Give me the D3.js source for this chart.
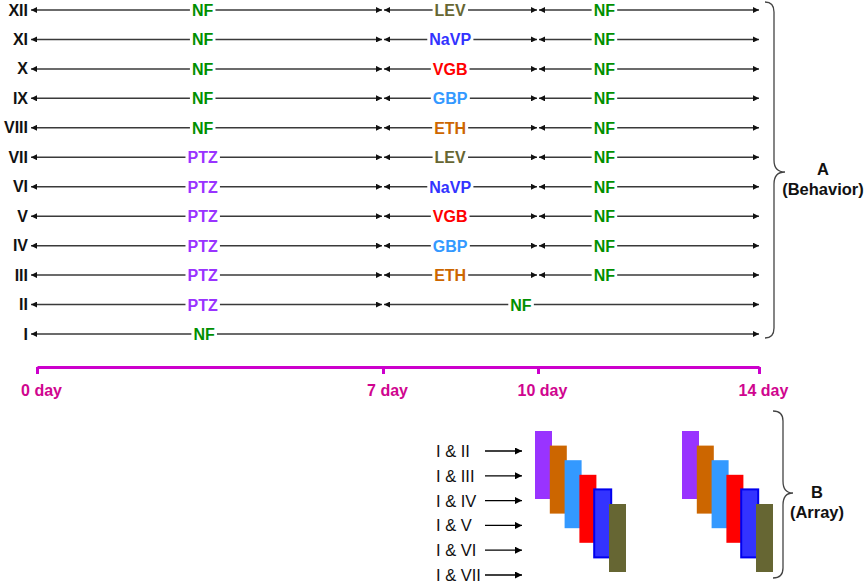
<!DOCTYPE html>
<html>
<head>
<meta charset="utf-8">
<script src="https://cdn.jsdelivr.net/npm/d3@7"></script>
<style>
  body { margin: 0; background: #fff; }
  svg { display: block; font-family: "Liberation Sans", Arial, sans-serif; }
</style>
</head>
<body>
<div id="plot_area"></div>
<script>
// Chart size
const w = 866;
const h = 584;

// Timeline days and their tick labels
const days = [0, 7, 10, 14];
const dayLabels = ['0 day', '7 day', '10 day', '14 day'];

// Groups I..XII and what they got in each phase
const groups = ['I', 'II', 'III', 'IV', 'V', 'VI', 'VII', 'VIII', 'IX', 'X', 'XI', 'XII'];
const week1 = ['NF', 'PTZ', 'PTZ', 'PTZ', 'PTZ', 'PTZ', 'PTZ', 'NF', 'NF', 'NF', 'NF', 'NF'];
const drug = ['', '', 'ETH', 'GBP', 'VGB', 'NaVP', 'LEV', 'ETH', 'GBP', 'VGB', 'NaVP', 'LEV'];
const washout = ['', 'NF', 'NF', 'NF', 'NF', 'NF', 'NF', 'NF', 'NF', 'NF', 'NF', 'NF'];

// Array comparisons
const comparisons = ['I & II', 'I & III', 'I & IV', 'I & V', 'I & VI', 'I & VII'];
const arrayDrugs = ['PTZ', 'ETH', 'GBP', 'VGB', 'NaVP', 'LEV'];
const arrayPanels = [0, 1];

const colors = {
  NF: '#008F00', PTZ: '#9933FF', ETH: '#CC6600', GBP: '#3399FF',
  VGB: '#FF0000', NaVP: '#3333FF', LEV: '#666633'
};

// build segments for each group
let segs = [];
groups.forEach(function (g, i) {
  if (!washout[i]) {
    segs.push({ row: g, a: 0, b: 14, label: week1[i] });
  } else if (!drug[i]) {
    segs.push({ row: g, a: 0, b: 7, label: week1[i] });
    segs.push({ row: g, a: 7, b: 14, label: washout[i] });
  } else {
    segs.push({ row: g, a: 0, b: 7, label: week1[i] });
    segs.push({ row: g, a: 7, b: 10, label: drug[i] });
    segs.push({ row: g, a: 10, b: 14, label: washout[i] });
  }
});

// where the label sits along a segment (in days)
const labelAt = { '0-14': 3.38, '0-7': 3.35, '7-14': 9.67, '7-10': 8.3, '10-14': 11.2 };

const xScale = d3.scaleLinear()
                .domain(days)
                .range([37, 383, 538, 759]);

const yScale = d3.scalePoint()
                .domain(groups)
                .range([334, 10]);

const svg = d3.select('#plot_area')
              .append('svg')
              .attr('width', w)
              .attr('height', h);

const defs = svg.append('defs');
defs.append('marker')
    .attr('id', 'head')
    .attr('viewBox', '0 0 6 6')
    .attr('refX', 6)
    .attr('refY', 3)
    .attr('markerWidth', 6)
    .attr('markerHeight', 6)
    .attr('markerUnits', 'userSpaceOnUse')
    .attr('orient', 'auto-start-reverse')
  .append('path')
    .attr('d', 'M0,0L6,3L0,6Z')
    .attr('fill', '#111');

defs.append('marker')
    .attr('id', 'head2')
    .attr('viewBox', '0 0 7 7')
    .attr('refX', 7)
    .attr('refY', 3.5)
    .attr('markerWidth', 7)
    .attr('markerHeight', 7)
    .attr('markerUnits', 'userSpaceOnUse')
    .attr('orient', 'auto')
  .append('path')
    .attr('d', 'M0,0L7,3.5L0,7Z')
    .attr('fill', '#000');

// timeline arrows
svg.append('g')
  .selectAll('line')
  .data(segs)
  .join('line')
  .attr('x1', (d) => d.a === 0 ? xScale(0) - 6 : xScale(d.a) + 1)
  .attr('x2', (d) => d.b === 14 ? xScale(14) : xScale(d.b) - 1)
  .attr('y1', (d) => yScale(d.row))
  .attr('y2', (d) => yScale(d.row))
  .attr('stroke', '#3a3a3a')
  .attr('stroke-width', 1.5)
  .attr('marker-start', 'url(#head)')
  .attr('marker-end', 'url(#head)');

// segment labels on a white patch that breaks the line
const labels = svg.append('g')
  .selectAll('g')
  .data(segs)
  .join('g');

labels.append('rect')
  .attr('fill', '#fff');

labels.append('text')
  .attr('x', (d) => xScale(labelAt[d.a + '-' + d.b]))
  .attr('y', (d) => yScale(d.row) + 6)
  .attr('text-anchor', 'middle')
  .style('font-size', '16px')
  .style('font-weight', 'bold')
  .attr('fill', (d) => colors[d.label])
  .text((d) => d.label);

labels.each(function () {
  const g = d3.select(this);
  const b = g.select('text').node().getBBox();
  g.select('rect')
    .attr('x', b.x - 2)
    .attr('y', b.y)
    .attr('width', b.width + 4)
    .attr('height', b.height);
});

// group names
svg.append('g')
  .selectAll('text')
  .data(groups)
  .join('text')
  .attr('x', 28)
  .attr('y', (d) => yScale(d) + 5.5)
  .attr('text-anchor', 'end')
  .style('font-size', '16px')
  .style('font-weight', 'bold')
  .attr('fill', '#111')
  .text((d) => d);

// day axis
const axis = svg.append('g')
  .attr('transform', 'translate(0,367)')
  .call(d3.axisBottom(xScale)
          .tickValues(days)
          .tickSize(7)
          .tickSizeOuter(0)
          .tickFormat((d, i) => dayLabels[i]));
axis.select('.domain').attr('stroke', '#CC00CC').attr('stroke-width', 3);
axis.selectAll('.tick line').attr('stroke', '#CC00CC').attr('stroke-width', 3);
axis.selectAll('.tick text')
  .attr('y', 18)
  .attr('x', 4)
  .attr('fill', '#D0058F')
  .style('font-size', '16px')
  .style('font-weight', 'bold')
  .style('font-family', '"Liberation Sans", Arial, sans-serif');

// curly brace
function brace(x0, xm, xt, y0, y1, ym) {
  const p = d3.path();
  p.moveTo(x0, y0);
  p.quadraticCurveTo(xm, y0, xm, y0 + 10);
  p.lineTo(xm, ym - 12);
  p.quadraticCurveTo(xm, ym, xt, ym);
  p.quadraticCurveTo(xm, ym, xm, ym + 12);
  p.lineTo(xm, y1 - 10);
  p.quadraticCurveTo(xm, y1, x0, y1);
  return p.toString();
}

svg.append('path')
  .attr('d', brace(765, 774, 785, 2, 338, 172))
  .attr('fill', 'none')
  .attr('stroke', '#444')
  .attr('stroke-width', 1.3);

svg.append('path')
  .attr('d', brace(773, 783, 793, 411, 578, 493))
  .attr('fill', 'none')
  .attr('stroke', '#444')
  .attr('stroke-width', 1.3);

const side = svg.append('g')
  .style('font-size', '16.5px')
  .style('font-weight', 'bold')
  .attr('text-anchor', 'middle')
  .attr('fill', '#111');
side.append('text').attr('x', 823).attr('y', 175).text('A');
side.append('text').attr('x', 823).attr('y', 195).text('(Behavior)');
side.append('text').attr('x', 817).attr('y', 498).text('B');
side.append('text').attr('x', 817).attr('y', 518).text('(Array)');

// array comparisons
const yComp = d3.scalePoint()
                .domain(comparisons)
                .range([451, 575]);

svg.append('g')
  .selectAll('text')
  .data(comparisons)
  .join('text')
  .attr('x', 436)
  .attr('y', (d) => yComp(d) + 6)
  .style('font-size', '16.5px')
  .attr('fill', '#111')
  .text((d) => d);

svg.append('g')
  .selectAll('line')
  .data(comparisons)
  .join('line')
  .attr('x1', 485)
  .attr('x2', 522)
  .attr('y1', (d) => yComp(d))
  .attr('y2', (d) => yComp(d))
  .attr('stroke', '#000')
  .attr('stroke-width', 1.3)
  .attr('marker-end', 'url(#head2)');

// staggered array blocks
const xBlock = d3.scaleLinear().domain([0, 5]).range([535, 609]);
const yBlock = d3.scaleLinear().domain([0, 5]).range([431, 504]);
const panelShift = d3.scaleLinear().domain([0, 1]).range([0, 147]);

arrayPanels.forEach(function (p) {
  svg.append('g')
    .selectAll('rect')
    .data(arrayDrugs)
    .join('rect')
    .attr('x', (d, i) => xBlock(i) + panelShift(p))
    .attr('y', (d, i) => yBlock(i))
    .attr('width', 17)
    .attr('height', 68)
    .attr('fill', (d) => colors[d])
    .attr('stroke', (d) => d === 'NaVP' ? '#0000EE' : 'none')
    .attr('stroke-width', 2);
});
</script>
</body>
</html>
